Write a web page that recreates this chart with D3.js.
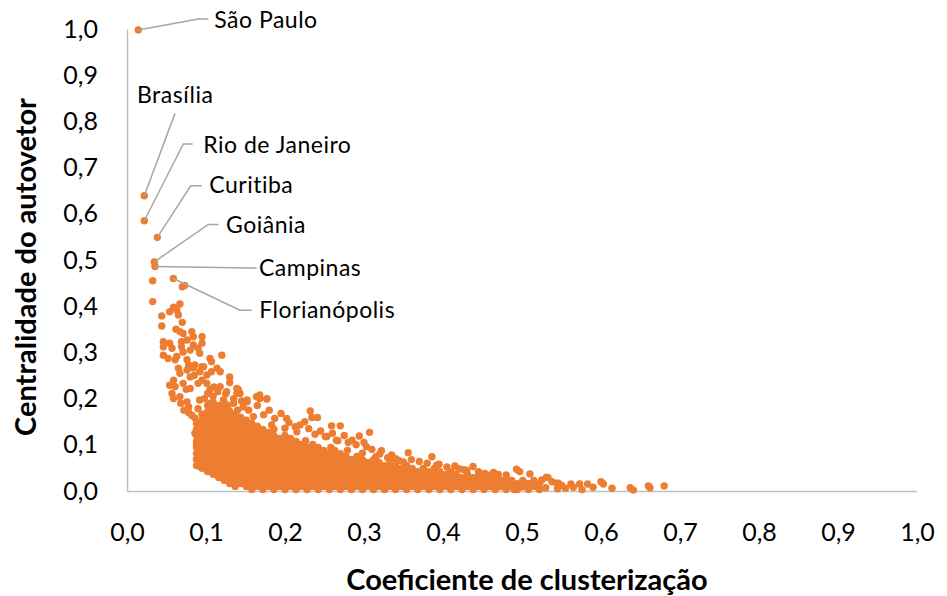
<!DOCTYPE html>
<html>
<head>
<meta charset="utf-8">
<script src="https://cdn.jsdelivr.net/npm/d3@7"></script>
<style>
  body { margin: 0; background: #fff; }
</style>
</head>
<body>
<div id="chart"></div>
<script>
// ticks
var xTicks = [0, 0.1, 0.2, 0.3, 0.4, 0.5, 0.6, 0.7, 0.8, 0.9, 1.0];
var yTicks = [0, 0.1, 0.2, 0.3, 0.4, 0.5, 0.6, 0.7, 0.8, 0.9, 1.0];

// municipios com rotulo
var cidades = [
  {nome: "São Paulo", x: 0.0143, y: 0.998},
  {nome: "Brasília", x: 0.0219, y: 0.639},
  {nome: "Rio de Janeiro", x: 0.0219, y: 0.585},
  {nome: "Curitiba", x: 0.0384, y: 0.549},
  {nome: "Goiânia", x: 0.0346, y: 0.496},
  {nome: "Campinas", x: 0.0354, y: 0.486},
  {nome: "Florianópolis", x: 0.0586, y: 0.46}
];

// cauda superior (poucos pontos, centralidade alta)
var cauda = [
  [0.0325,0.455],[0.07,0.442],[0.073,0.445],[0.0325,0.41],[0.067,0.405],[0.059,0.398],
  [0.063,0.392],[0.054,0.388],[0.044,0.379],[0.065,0.381],[0.044,0.357],[0.07,0.365],
  [0.062,0.35],[0.067,0.345],[0.071,0.341],[0.082,0.345],[0.084,0.334],[0.076,0.327],
  [0.095,0.334],[0.095,0.32],[0.046,0.323],[0.046,0.312],[0.054,0.32],[0.057,0.309],
  [0.069,0.323],[0.069,0.312],[0.071,0.301],[0.08,0.305],[0.084,0.316],[0.09,0.309],
  [0.092,0.298],[0.046,0.294],[0.052,0.287],[0.061,0.284],[0.063,0.291],[0.076,0.284],
  [0.078,0.273],[0.086,0.273],[0.095,0.269],[0.105,0.287],[0.107,0.28],[0.12,0.294],
  [0.065,0.266],[0.067,0.255],[0.076,0.262],[0.08,0.247],[0.084,0.266],[0.092,0.258],
  [0.097,0.269],[0.101,0.251],[0.107,0.258],[0.114,0.266],[0.118,0.258],[0.13,0.247],
  [0.059,0.24],[0.061,0.226],[0.054,0.229],[0.071,0.233],[0.08,0.222],[0.09,0.233],
  [0.101,0.233],[0.105,0.219],[0.118,0.226],[0.126,0.215],[0.139,0.222],[0.143,0.211],
  [0.057,0.211],[0.059,0.2],[0.067,0.204],[0.076,0.193],[0.092,0.197],[0.105,0.19],
  [0.122,0.197],[0.135,0.19],[0.152,0.193],[0.164,0.204],[0.168,0.208],[0.177,0.2]
];

// pontos dispersos acima do nucleo
var dispersos = [
  [0.141,0.219],[0.139,0.211],[0.168,0.2],[0.177,0.199],[0.232,0.173],[0.234,0.159],
  [0.241,0.159],[0.259,0.141],[0.27,0.141],[0.265,0.11],[0.152,0.197],[0.147,0.182],
  [0.154,0.175],[0.16,0.161],[0.173,0.165],[0.187,0.157],[0.202,0.157],[0.213,0.139],
  [0.219,0.143],[0.2,0.136],[0.183,0.143],[0.238,0.123],[0.253,0.118],[0.294,0.119],
  [0.307,0.127],[0.267,0.109],[0.28,0.105],[0.303,0.096],[0.322,0.087],[0.335,0.078],
  [0.356,0.083],[0.35,0.063],[0.386,0.074],[0.415,0.054],[0.438,0.053],[0.453,0.038],
  [0.464,0.04],[0.493,0.047],[0.497,0.042],[0.51,0.037],[0.531,0.03],[0.544,0.017],
  [0.315,0.074],[0.251,0.118],[0.165,0.185],[0.18,0.175],[0.195,0.168],[0.205,0.148],
  [0.225,0.15],[0.215,0.128],[0.23,0.135],[0.245,0.13],[0.26,0.125],[0.275,0.12],
  [0.285,0.11],[0.29,0.1],[0.3,0.105],[0.31,0.09],[0.32,0.08],[0.33,0.072],
  [0.34,0.07],[0.36,0.068],[0.37,0.064],[0.38,0.06],[0.395,0.058],[0.405,0.052],
  [0.42,0.048],[0.43,0.045],[0.445,0.042],[0.47,0.036],[0.48,0.035],[0.135,0.2],
  [0.145,0.195],[0.125,0.21],[0.115,0.215],[0.11,0.225],[0.128,0.185],[0.14,0.175],
  [0.13,0.235],[0.095,0.24],[0.085,0.25],[0.075,0.22],[0.068,0.19],[0.078,0.17],
  [0.082,0.164],[0.086,0.125],[0.088,0.1],[0.088,0.069],[0.092,0.053],[0.078,0.182],
  [0.072,0.175],[0.298,0.082],[0.344,0.066],[0.392,0.056],[0.426,0.046],[0.458,0.034],
  [0.186,0.134],[0.226,0.109],[0.258,0.094],[0.279,0.088],[0.09,0.178],[0.098,0.2],
  [0.086,0.158]
];

// nucleo denso: [x, y1, y2, ...]
var nucleo = [
  [0.088, 0.055,0.068,0.081,0.094,0.107,0.12,0.133,0.146],
  [0.095, 0.049,0.062,0.075,0.088,0.101,0.114,0.127,0.14,0.153,0.166],
  [0.102, 0.042,0.055,0.068,0.081,0.094,0.107,0.12,0.133,0.146,0.159,0.172,0.185,0.211],
  [0.109, 0.036,0.049,0.062,0.075,0.088,0.101,0.114,0.127,0.14,0.153,0.166,0.179,0.192,0.205],
  [0.116, 0.029,0.042,0.055,0.068,0.081,0.094,0.107,0.12,0.133,0.146,0.159,0.172,0.185],
  [0.123, 0.023,0.036,0.049,0.062,0.075,0.088,0.101,0.114,0.127,0.14,0.153,0.166,0.179,0.192],
  [0.130, 0.016,0.029,0.042,0.055,0.068,0.081,0.094,0.107,0.12,0.133,0.146,0.159,0.172],
  [0.137, 0.01,0.023,0.036,0.049,0.062,0.075,0.088,0.101,0.114,0.127,0.14,0.153,0.166],
  [0.144, 0.016,0.029,0.042,0.055,0.068,0.081,0.094,0.107,0.12,0.133,0.146,0.159],
  [0.151, 0.01,0.023,0.036,0.049,0.062,0.075,0.088,0.101,0.114,0.127,0.14,0.153],
  [0.158, 0.003,0.016,0.029,0.042,0.055,0.068,0.081,0.094,0.107,0.12,0.133,0.146],
  [0.165, 0.01,0.023,0.036,0.049,0.062,0.075,0.088,0.101,0.114,0.127,0.14],
  [0.172, 0.003,0.016,0.029,0.042,0.055,0.068,0.081,0.094,0.107,0.12,0.133],
  [0.179, 0.01,0.023,0.036,0.049,0.062,0.075,0.088,0.101,0.114,0.127],
  [0.186, 0.003,0.016,0.029,0.042,0.055,0.068,0.081,0.094,0.107,0.12],
  [0.193, 0.01,0.023,0.036,0.049,0.062,0.075,0.088,0.101,0.114],
  [0.200, 0.003,0.016,0.029,0.042,0.055,0.068,0.081,0.094,0.107,0.12],
  [0.207, 0.01,0.023,0.036,0.049,0.062,0.075,0.088,0.101,0.114],
  [0.214, 0.003,0.016,0.029,0.042,0.055,0.068,0.081,0.094,0.107],
  [0.221, 0.01,0.023,0.036,0.049,0.062,0.075,0.088,0.101],
  [0.228, 0.003,0.016,0.029,0.042,0.055,0.068,0.081,0.094],
  [0.235, 0.01,0.023,0.036,0.049,0.062,0.075,0.088,0.101],
  [0.242, 0.003,0.016,0.029,0.042,0.055,0.068,0.081,0.094],
  [0.249, 0.01,0.023,0.036,0.049,0.062,0.075,0.088],
  [0.256, 0.003,0.016,0.029,0.042,0.055,0.068,0.081],
  [0.263, 0.01,0.023,0.036,0.049,0.062,0.075,0.088],
  [0.270, 0.003,0.016,0.029,0.042,0.055,0.068,0.081],
  [0.277, 0.01,0.023,0.036,0.049,0.062,0.075],
  [0.284, 0.003,0.016,0.029,0.042,0.055,0.068],
  [0.291, 0.01,0.023,0.036,0.049,0.062,0.075],
  [0.298, 0.003,0.016,0.029,0.042,0.055,0.068],
  [0.305, 0.01,0.023,0.036,0.049,0.062],
  [0.312, 0.003,0.016,0.029,0.042,0.055,0.068],
  [0.319, 0.01,0.023,0.036,0.049,0.062],
  [0.326, 0.003,0.016,0.029,0.042,0.055],
  [0.333, 0.01,0.023,0.036,0.049,0.062],
  [0.340, 0.003,0.016,0.029,0.042,0.055],
  [0.347, 0.01,0.023,0.036,0.049],
  [0.354, 0.003,0.016,0.029,0.042,0.055],
  [0.361, 0.01,0.023,0.036,0.049],
  [0.368, 0.003,0.016,0.029,0.042],
  [0.375, 0.01,0.023,0.036,0.049],
  [0.382, 0.003,0.016,0.029,0.042],
  [0.389, 0.01,0.023,0.036,0.049],
  [0.396, 0.003,0.016,0.029,0.042],
  [0.403, 0.01,0.023,0.036],
  [0.410, 0.003,0.016,0.029,0.042],
  [0.417, 0.01,0.023,0.036],
  [0.424, 0.003,0.016,0.029],
  [0.431, 0.01,0.023,0.036],
  [0.438, 0.003,0.016,0.029],
  [0.445, 0.01,0.023,0.036],
  [0.452, 0.003,0.016,0.029],
  [0.459, 0.01,0.023],
  [0.466, 0.003,0.016,0.029],
  [0.473, 0.01,0.023],
  [0.480, 0.003,0.016,0.029],
  [0.487, 0.01,0.023],
  [0.494, 0.003,0.016],
  [0.501, 0.01,0.023],
  [0.508, 0.003,0.016],
  [0.515, 0.01,0.023],
  [0.522, 0.003,0.016]
];

// cauda direita (coeficiente alto)
var direita = [
  [0.525,0.024],[0.533,0.029],[0.538,0.02],[0.546,0.017],[0.562,0.015],[0.573,0.015],
  [0.583,0.015],[0.6,0.02],[0.603,0.015],[0.614,0.006],[0.637,0.007],[0.641,0.002],
  [0.66,0.011],[0.662,0.007],[0.68,0.011],[0.53,0.007],[0.555,0.006],[0.576,0.003],
  [0.49,0.003],[0.5,0.009],[0.545,0.005],[0.59,0.008],[0.565,0.008],[0.55,0.012]
];

var width = 947;
var height = 596;
var margin = {top: 29, left: 127, right: 30, bottom: 105};

var svg = d3.select("#chart")
  .append("svg")
  .attr("width", width)
  .attr("height", height);

var xScale = d3.scaleLinear()
  .domain([0, 1])
  .range([margin.left, width - margin.right]);

var yScale = d3.scaleLinear()
  .domain([0, 1])
  .range([height - margin.bottom, margin.top]);

var pt = d3.formatLocale({decimal: ",", thousands: ".", grouping: [3], currency: ["R$", ""]});
var fmt = pt.format(".1f");

var xAxis = svg.append("g")
  .attr("transform", `translate(0,${yScale(0)})`)
  .call(d3.axisBottom(xScale).tickValues(xTicks).tickFormat(fmt).tickSize(0).tickPadding(32));

var yAxis = svg.append("g")
  .attr("transform", `translate(${xScale(0)},0)`)
  .call(d3.axisLeft(yScale).tickValues(yTicks).tickFormat(fmt).tickSize(0).tickPadding(29));

[xAxis, yAxis].forEach(function(a) {
  a.select(".domain").attr("stroke", "#BFBFBF").attr("stroke-width", 1.5);
  a.selectAll("text")
    .attr("font-family", "Lato, sans-serif")
    .attr("font-size", 25)
    .attr("fill", "#000");
});

// junta todos os pontos
var pontos = [];
cauda.forEach(function(p) { pontos.push(p); });
dispersos.forEach(function(p) { pontos.push(p); });
nucleo.forEach(function(c) {
  c.slice(1).forEach(function(y) { pontos.push([c[0], y]); });
});
direita.forEach(function(p) { pontos.push(p); });
cidades.forEach(function(d) { pontos.push([d.x, d.y]); });

svg.append("g")
  .selectAll("circle")
  .data(pontos)
  .enter()
  .append("circle")
    .attr("cx", function(d) { return xScale(d[0]); })
    .attr("cy", function(d) { return yScale(d[1]); })
    .attr("r", 3.7)
    .attr("fill", "#ED7D31");

// posicao dos rotulos relativa ao ponto (px)
var rotulos = {
  "São Paulo":      {ex: 60, ey: -11, fx: 70, tx: 76, ty: -2},
  "Brasília":       {ex: 30.7, ey: -82.4, fx: 30.7, tx: -7.3, ty: -92.7},
  "Rio de Janeiro": {ex: 39, ey: -76.7, fx: 48.4, tx: 59, ty: -67.7},
  "Curitiba":       {ex: 33.4, ey: -51.6, fx: 44.4, tx: 52, ty: -44.3},
  "Goiânia":        {ex: 54, ey: -37.4, fx: 64, tx: 71.7, ty: -28.7},
  "Campinas":       {ex: 93.3, ey: 1.6, fx: 101.7, tx: 104, ty: 9.3},
  "Florianópolis":  {ex: 66.7, ey: 31.7, fx: 78.4, tx: 86, ty: 39.7}
};

var anot = svg.append("g");
cidades.forEach(function(d) {
  var r = rotulos[d.nome];
  var cx = xScale(d.x), cy = yScale(d.y);
  anot.append("polyline")
    .attr("points", [[cx, cy], [cx + r.ex, cy + r.ey], [cx + r.fx, cy + r.ey]].join(" "))
    .attr("fill", "none")
    .attr("stroke", "#A6A6A6")
    .attr("stroke-width", 1.5);
  anot.append("text")
    .attr("x", cx + r.tx)
    .attr("y", cy + r.ty)
    .attr("font-family", "Lato, sans-serif")
    .attr("font-size", 23)
    .attr("letter-spacing", 0.5)
    .attr("fill", "#000")
    .text(d.nome);
});

var xLabel = svg.append("text")
  .attr("x", 527)
  .attr("y", 590)
  .attr("text-anchor", "middle")
  .attr("font-family", "Lato, sans-serif")
  .attr("font-weight", "bold")
  .attr("font-size", 29)
  .text("Coeficiente de clusterização");

var yLabel = svg.append("text")
  .attr("transform", "translate(36,267) rotate(-90)")
  .attr("text-anchor", "middle")
  .attr("font-family", "Lato, sans-serif")
  .attr("font-weight", "bold")
  .attr("font-size", 29)
  .text("Centralidade do autovetor");
</script>
</body>
</html>
